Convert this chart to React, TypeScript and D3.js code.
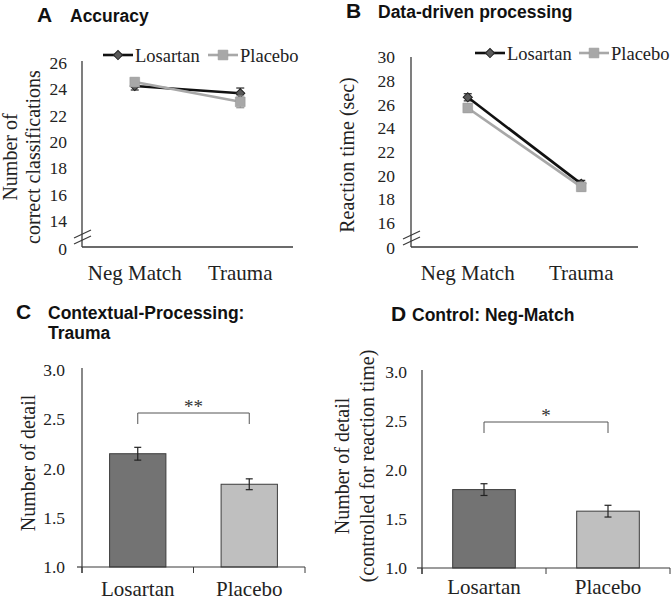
import React from "react";
import * as d3 from "d3";

const lineCategories = ["Neg Match", "Trauma"];
const groups = ["Losartan", "Placebo"];

// Panel A: accuracy
const accLosartan = [24.25, 23.7];
const accLosartanErr = [0.3, 0.4];
const accPlacebo = [24.55, 23.05];
const accPlaceboErr = [0.3, 0.45];
const accTicks = [0, 14, 16, 18, 20, 22, 24, 26];

// Panel B: reaction time
const rtLosartan = [26.6, 19.3];
const rtLosartanErr = [0.3, 0.3];
const rtPlacebo = [25.7, 19.05];
const rtPlaceboErr = [0.35, 0.35];
const rtTicks = [0, 16, 18, 20, 22, 24, 26, 28, 30];

// Panel C: contextual processing (trauma)
const ctxValues = [2.15, 1.84];
const ctxErr = [0.065, 0.055];
// Panel D: control (neg match)
const ctlValues = [1.8, 1.58];
const ctlErr = [0.06, 0.06];
const barTicks = [1.0, 1.5, 2.0, 2.5, 3.0];

const SERIF = "Liberation Serif";
const SANS = "Liberation Sans";
const AXIS = "#3a3a3a";
const LOS_LINE = "#111111";
const LOS_MARK = "#5a5a5a";
const PLA = "#a8a8a8";
const BAR_LOS = "#737373";
const BAR_PLA = "#bfbfbf";

const serifStyle = (size: number) => ({ fontFamily: SERIF, fontSize: size });

type LineProps = {
  x0: number; x1: number; yBottom: number;
  domain: number[]; range: number[]; ticks: number[];
  los: number[]; losErr: number[]; pla: number[]; plaErr: number[];
  axisTop: number; brkY: number;
  legendY: number; legendX: number[];
  labelX: number[]; labelLines: string[]; labelY: number;
  tickLabelRight: number;
};

function diamondPath() {
  return d3.symbol().type(d3.symbolSquare).size(42)() as string;
}
function squarePath() {
  return d3.symbol().type(d3.symbolSquare).size(95)() as string;
}

function LinePanel(p: LineProps) {
  const x = d3.scaleBand().domain(lineCategories).range([p.x0, p.x1]);
  const y = d3.scaleLinear().domain(p.domain).range(p.range);
  const cx = (c: string) => (x(c) as number) + x.bandwidth() / 2;
  const line = d3.line<number>().x((_, i) => cx(lineCategories[i])).y((v) => y(v));
  const series = [
    { vals: p.los, err: p.losErr, stroke: LOS_LINE, mark: "d" },
    { vals: p.pla, err: p.plaErr, stroke: PLA, mark: "s" },
  ];
  return (
    <g>
      <line x1={p.x0} x2={p.x0} y1={p.axisTop} y2={p.yBottom} stroke={AXIS} strokeWidth={1.3} />
      <line x1={p.x0} x2={p.x1} y1={p.yBottom} y2={p.yBottom} stroke={AXIS} strokeWidth={1.3} />
      <line x1={p.x0 - 8} y1={p.brkY + 4} x2={p.x0 + 9} y2={p.brkY - 4} stroke={AXIS} strokeWidth={1.1} />
      <line x1={p.x0 - 8} y1={p.brkY + 10} x2={p.x0 + 9} y2={p.brkY + 2} stroke={AXIS} strokeWidth={1.1} />
      {p.ticks.map((t) => (
        <text key={t} x={p.tickLabelRight} y={y(t)} dy="0.35em" textAnchor="end"
          style={serifStyle(17.5)} fill="#222">{t}</text>
      ))}
      {lineCategories.map((c) => (
        <text key={c} x={cx(c)} y={p.yBottom + 33} textAnchor="middle"
          style={serifStyle(21)} fill="#222">{c}</text>
      ))}
      {p.labelLines.map((l, i) => (
        <text key={l} transform={`translate(${p.labelX[i]},${p.labelY}) rotate(-90)`}
          textAnchor="middle" style={serifStyle(20)} fill="#222">{l}</text>
      ))}
      {series.map((s, si) => (
        <g key={si}>
          <path d={line(s.vals) as string} fill="none" stroke={s.stroke} strokeWidth={2.6} />
          {s.vals.map((v, i) => {
            const px = cx(lineCategories[i]);
            const ec = si === 0 ? LOS_LINE : "#888";
            return (
              <g key={i}>
                <line x1={px} x2={px} y1={y(v + s.err[i])} y2={y(v - s.err[i])} stroke={ec} strokeWidth={1.1} />
                <line x1={px - 4} x2={px + 4} y1={y(v + s.err[i])} y2={y(v + s.err[i])} stroke={ec} strokeWidth={1.1} />
                <line x1={px - 4} x2={px + 4} y1={y(v - s.err[i])} y2={y(v - s.err[i])} stroke={ec} strokeWidth={1.1} />
                {s.mark === "d" ? (
                  <path d={diamondPath()} transform={`translate(${px},${y(v)}) rotate(45)`} fill={LOS_MARK} stroke="#222" strokeWidth={1} />
                ) : (
                  <path d={squarePath()} transform={`translate(${px},${y(v)})`} fill={PLA} stroke="#9a9a9a" strokeWidth={0.6} />
                )}
              </g>
            );
          })}
        </g>
      ))}
      {groups.map((g, i) => {
        const lx = p.legendX[i];
        return (
          <g key={g}>
            <line x1={lx} x2={lx + 30} y1={p.legendY} y2={p.legendY} stroke={i === 0 ? LOS_LINE : PLA} strokeWidth={2.6} />
            {i === 0 ? (
              <path d={diamondPath()} transform={`translate(${lx + 15},${p.legendY}) rotate(45)`} fill={LOS_MARK} stroke="#222" strokeWidth={1} />
            ) : (
              <path d={squarePath()} transform={`translate(${lx + 15},${p.legendY})`} fill={PLA} stroke="#9a9a9a" strokeWidth={0.6} />
            )}
            <text x={lx + 32} y={p.legendY + 6.5} style={serifStyle(18.5)} fill="#222">{g}</text>
          </g>
        );
      })}
    </g>
  );
}

type BarProps = {
  x0: number; x1: number; yBottom: number; yTop: number; axisTop: number;
  vals: number[]; errs: number[];
  labelX: number[]; labelLines: string[]; labelY: number;
  tickLabelRight: number; bracketY: number; bracketDrop: number; stars: string;
  catLabelY: number;
};

function BarPanel(p: BarProps) {
  const x = d3.scaleBand().domain(groups).range([p.x0, p.x1]);
  const y = d3.scaleLinear().domain([1, 3]).range([p.yBottom, p.yTop]);
  const bw = x.bandwidth() * 0.505;
  const cx = (g: string) => (x(g) as number) + x.bandwidth() / 2;
  const colors = [BAR_LOS, BAR_PLA];
  return (
    <g>
      {p.vals.map((v, i) => {
        const c = cx(groups[i]);
        return (
          <g key={i}>
            <rect x={c - bw / 2} y={y(v)} width={bw} height={y(1) - y(v)} fill={colors[i]} stroke="#3c3c3c" strokeWidth={1} />
            <line x1={c} x2={c} y1={y(v + p.errs[i])} y2={y(v - p.errs[i])} stroke="#222" strokeWidth={1.2} />
            <line x1={c - 3.5} x2={c + 3.5} y1={y(v + p.errs[i])} y2={y(v + p.errs[i])} stroke="#222" strokeWidth={1.2} />
            <line x1={c - 3.5} x2={c + 3.5} y1={y(v - p.errs[i])} y2={y(v - p.errs[i])} stroke="#222" strokeWidth={1.2} />
          </g>
        );
      })}
      <line x1={p.x0} x2={p.x0} y1={p.axisTop} y2={p.yBottom + 6} stroke={AXIS} strokeWidth={1.2} />
      <line x1={p.x0} x2={p.x1} y1={p.yBottom} y2={p.yBottom} stroke={AXIS} strokeWidth={1.2} />
      <line x1={p.x0 - 5} x2={p.x0} y1={p.yBottom} y2={p.yBottom} stroke={AXIS} strokeWidth={1.2} />
      {[...groups.map((g) => x(g) as number), p.x1].map((e, i) => (
        <line key={i} x1={e} x2={e} y1={p.yBottom} y2={p.yBottom + 6} stroke={AXIS} strokeWidth={1} />
      ))}
      {barTicks.map((t) => (
        <text key={t} x={p.tickLabelRight} y={y(t)} dy="0.35em" textAnchor="end"
          style={serifStyle(17.5)} fill="#222">{d3.format(".1f")(t)}</text>
      ))}
      {groups.map((g) => (
        <text key={g} x={cx(g)} y={p.catLabelY} textAnchor="middle"
          style={serifStyle(21)} fill="#222">{g}</text>
      ))}
      {p.labelLines.map((l, i) => (
        <text key={l} transform={`translate(${p.labelX[i]},${p.labelY}) rotate(-90)`}
          textAnchor="middle" style={serifStyle(20)} fill="#222">{l}</text>
      ))}
      <path d={`M${cx(groups[0])},${p.bracketY + p.bracketDrop}V${p.bracketY}H${cx(groups[1])}V${p.bracketY + p.bracketDrop}`}
        fill="none" stroke="#555" strokeWidth={1} />
      <text x={(cx(groups[0]) + cx(groups[1])) / 2} y={p.bracketY - 0.5} textAnchor="middle"
        style={serifStyle(19)} fill="#333">{p.stars}</text>
    </g>
  );
}

function Title(props: { x: number; y: number; letter: string; lines: string[]; gap: number }) {
  return (
    <g>
      <text x={props.x} y={props.y} style={{ fontFamily: SANS, fontWeight: "bold", fontSize: 21 }} fill="#111">{props.letter}</text>
      {props.lines.map((l, i) => (
        <text key={l} x={props.x + props.gap} y={props.y + i * 20} style={{ fontFamily: SANS, fontWeight: "bold", fontSize: 17.5 }} fill="#111">{l}</text>
      ))}
    </g>
  );
}

export default function App() {
  return (
    <svg width={671} height={601} style={{ position: "absolute", left: 0, top: 0, background: "#fff" }}>
      <rect width={671} height={601} fill="#fff" />
      <Title x={37} y={22} letter="A" lines={["Accuracy"]} gap={33} />
      <Title x={346} y={18} letter="B" lines={["Data-driven processing"]} gap={32} />
      <Title x={16} y={319} letter="C" lines={["Contextual-Processing:", "Trauma"]} gap={32} />
      <Title x={391} y={321} letter="D" lines={["Control: Neg-Match"]} gap={21} />

      <LinePanel x0={82} x1={293} yBottom={247} domain={[0, 14, 26]} range={[249, 221, 63]}
        ticks={accTicks} los={accLosartan} losErr={accLosartanErr} pla={accPlacebo} plaErr={accPlaceboErr}
        axisTop={61} brkY={234} legendY={55} legendX={[103, 208]}
        labelX={[17, 40]} labelLines={["Number of", "correct classifications"]} labelY={157}
        tickLabelRight={67} />
      <LinePanel x0={411} x1={638} yBottom={247} domain={[0, 16, 30]} range={[248, 223, 57]}
        ticks={rtTicks} los={rtLosartan} losErr={rtLosartanErr} pla={rtPlacebo} plaErr={rtPlaceboErr}
        axisTop={57} brkY={235} legendY={53} legendX={[475, 579]}
        labelX={[354]} labelLines={["Reaction time (sec)"]} labelY={155}
        tickLabelRight={395} />

      <BarPanel x0={82} x1={305} yBottom={567} yTop={370} axisTop={368}
        vals={ctxValues} errs={ctxErr} labelX={[35]} labelLines={["Number of detail"]} labelY={463}
        tickLabelRight={65} bracketY={413} bracketDrop={11} stars="**" catLabelY={596} />
      <BarPanel x0={422} x1={670} yBottom={568} yTop={372} axisTop={370}
        vals={ctlValues} errs={ctlErr} labelX={[349, 374]} labelLines={["Number of detail", "(controlled for reaction time)"]} labelY={466}
        tickLabelRight={407} bracketY={422} bracketDrop={11} stars="*" catLabelY={594} />
    </svg>
  );
}
